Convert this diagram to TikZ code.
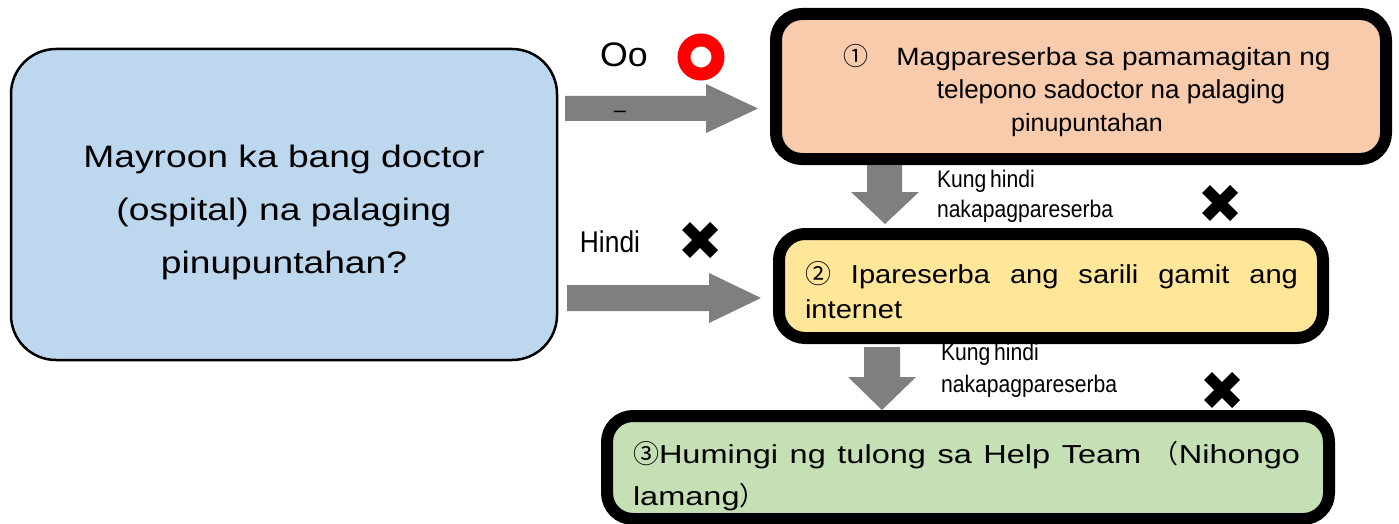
\documentclass[tikz,border=0pt]{standalone}
\usepackage{fontspec}
\setmainfont{Liberation Sans}
\newfontfamily\fA[FakeStretch=1.2]{Liberation Sans}
\newfontfamily\fB[FakeStretch=1.12]{Liberation Sans}
\newfontfamily\fC[FakeStretch=1.05]{Liberation Sans}
\newfontfamily\fD[FakeStretch=1.25]{Liberation Sans}
\newfontfamily\fN[FakeStretch=0.88,WordSpace=0.65]{Liberation Sans}
\newfontfamily\cjk{Noto Sans CJK JP}
\definecolor{qblue}{HTML}{BDD7EE}
\definecolor{qorange}{HTML}{F8CBAD}
\definecolor{qyellow}{HTML}{FFE699}
\definecolor{qgreen}{HTML}{C5E0B4}
\definecolor{agray}{HTML}{7F7F7F}
\tikzset{
  thinbox/.style={draw=black, line width=2.5pt, rounded corners=45pt, fill=qblue,
    inner sep=0pt, outer sep=0pt},
  thickbox/.style={draw=black, line width=12pt, rounded corners=26pt,
    inner sep=0pt, outer sep=0pt},
  blockarrow/.style={fill=agray},
  crossmark/.style={line width=11pt, black},
  lbl/.style={inner sep=0pt, outer sep=0pt}
}
\begin{document}
\begin{tikzpicture}[x=1pt,y=-1pt]
\useasboundingbox (0,0) rectangle (1399,524);

% boxes
\node[thinbox, minimum width=546pt, minimum height=311pt] (q) at (284,204.5) {};
\node[thickbox, fill=qorange, minimum width=610pt, minimum height=145pt] (b1) at (1081,86.5) {};
\node[thickbox, fill=qyellow, minimum width=544pt, minimum height=104pt] (b2) at (1051,286) {};
\node[thickbox, fill=qgreen, minimum width=722pt, minimum height=103pt] (b3) at (968,467.5) {};

% texts in boxes
\node[lbl, align=center, font={\fA\fontsize{31}{53}\selectfont}] (tq) at (284,212)
  {Mayroon ka bang doctor\\(ospital) na palaging\\pinupuntahan?};
\node[lbl, align=center, font={\fB\fontsize{25}{33}\selectfont}] (t1) at (1087,91)
  {{\cjk ①}\hspace{28pt}Magpareserba sa pamamagitan ng\\
   \hspace*{48pt}{\fontspec{Liberation Sans}\fontsize{26}{33}\selectfont telepono sadoctor na palaging}\\
   {\fontspec{Liberation Sans}\fontsize{25}{33}\selectfont pinupuntahan}};
\node[lbl, anchor=west, text width=493pt, align=justify, font={\fB\fontsize{26}{35}\selectfont}] (t2) at (805,290)
  {{\cjk ②} Ipareserba ang sarili gamit ang\linebreak internet};
\node[lbl, anchor=north west, text width=667pt, align=justify, font={\fD\fontsize{26}{42}\selectfont}] (t3) at (633,441)
  {{\cjk ③}Humingi ng tulong sa Help Team {\cjk （}Nihongo\linebreak lamang{\cjk ）}};
% bottom border of box 3 drawn over its text
\draw[line width=12pt] ([xshift=26pt]b3.south west) -- ([xshift=-26pt]b3.south east);

% block arrows
\fill[blockarrow] (565,96) -- (706,96) -- (706,84) -- (758,108.5) -- (706,133) -- (706,121) -- (565,121) -- cycle;
\fill[blockarrow] (567,285) -- (709,285) -- (709,273) -- (761,298) -- (709,323) -- (709,311) -- (567,311) -- cycle;
\fill[blockarrow] (867,165) -- (902,165) -- (902,192) -- (919,192) -- (885,224) -- (851,192) -- (867,192) -- cycle;
\fill[blockarrow] (864,347) -- (900,347) -- (900,377) -- (916,377) -- (882,410) -- (848,377) -- (864,377) -- cycle;

% labels
\node[lbl, font={\fC\fontsize{34}{40}\selectfont}] (oo) at (624,55) {Oo};
\node[lbl, font={\fontsize{22}{24}\selectfont}] (dash) at (620,114) {–};
\draw[red, line width=13pt] (701,57) circle (17pt);
\node[lbl, font={\fN\fontsize{30}{36}\selectfont}] (hindi) at (610,242) {Hindi};
\node[lbl, anchor=north west, align=left, font={\fN\fontsize{24}{30}\selectfont}] (k1) at (937,170)
  {Kung hindi\\nakapagpareserba};
\node[lbl, anchor=north west, align=left, font={\fN\fontsize{24}{32}\selectfont}] (k2) at (941,343)
  {Kung hindi\\nakapagpareserba};

% cross marks
\draw[crossmark] (686,226) -- (714,254) (714,226) -- (686,254);
\draw[crossmark] (1206,189) -- (1234,217) (1234,189) -- (1206,217);
\draw[crossmark] (1208,376) -- (1236,404) (1236,376) -- (1208,404);
\end{tikzpicture}
\end{document}
